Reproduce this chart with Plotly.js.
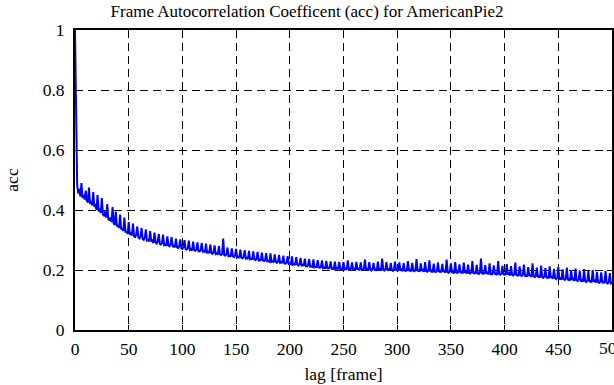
<!DOCTYPE html>
<html>
<head>
<meta charset="utf-8">
<script src="https://cdn.plot.ly/plotly-3.0.1.min.js"></script>
<style>html,body{margin:0;padding:0;background:#fff}#chart{width:614px;height:385px}</style>
</head>
<body>
<div id="chart"></div>
<script>
const chartTitle = "Frame Autocorrelation Coefficent (acc) for AmericanPie2";
const xLabel = "lag [frame]";
const yLabel = "acc";
const xTicks = [0, 50, 100, 150, 200, 250, 300, 350, 400, 450, 500];
const yTicks = [0, 0.2, 0.4, 0.6, 0.8, 1];
// acc values for lag 0..500
const acc = [
1.000, 0.660, 0.485, 0.455, 0.470, 0.445, 0.490, 0.440, 0.450, 0.435,
0.465, 0.430, 0.425, 0.475, 0.420, 0.430, 0.415, 0.460, 0.410, 0.420,
0.400, 0.450, 0.395, 0.405, 0.390, 0.440, 0.385, 0.380, 0.395, 0.375,
0.420, 0.370, 0.365, 0.375, 0.360, 0.410, 0.355, 0.350, 0.395, 0.345,
0.350, 0.340, 0.385, 0.335, 0.340, 0.330, 0.375, 0.325, 0.330, 0.320,
0.360, 0.318, 0.322, 0.315, 0.355, 0.312, 0.310, 0.318, 0.345, 0.308,
0.305, 0.312, 0.340, 0.303, 0.300, 0.308, 0.335, 0.298, 0.300, 0.295,
0.330, 0.295, 0.298, 0.290, 0.325, 0.292, 0.288, 0.295, 0.320, 0.287,
0.285, 0.290, 0.318, 0.283, 0.285, 0.280, 0.312, 0.282, 0.279, 0.285,
0.310, 0.277, 0.280, 0.275, 0.305, 0.276, 0.273, 0.279, 0.302, 0.272,
0.270, 0.276, 0.300, 0.270, 0.268, 0.272, 0.298, 0.267, 0.269, 0.265,
0.295, 0.266, 0.264, 0.268, 0.292, 0.263, 0.262, 0.266, 0.290, 0.261,
0.262, 0.259, 0.288, 0.258, 0.260, 0.256, 0.285, 0.257, 0.254, 0.259,
0.282, 0.253, 0.255, 0.251, 0.280, 0.252, 0.250, 0.254, 0.305, 0.249,
0.248, 0.252, 0.275, 0.246, 0.248, 0.245, 0.272, 0.246, 0.243, 0.248,
0.270, 0.242, 0.244, 0.240, 0.268, 0.241, 0.239, 0.243, 0.266, 0.238,
0.240, 0.237, 0.264, 0.236, 0.238, 0.235, 0.262, 0.236, 0.233, 0.237,
0.260, 0.232, 0.234, 0.231, 0.258, 0.232, 0.230, 0.233, 0.256, 0.229,
0.230, 0.228, 0.255, 0.227, 0.229, 0.226, 0.252, 0.227, 0.224, 0.228,
0.250, 0.224, 0.226, 0.223, 0.248, 0.222, 0.221, 0.224, 0.246, 0.220,
0.221, 0.219, 0.245, 0.218, 0.220, 0.217, 0.243, 0.218, 0.215, 0.219,
0.240, 0.215, 0.217, 0.214, 0.238, 0.213, 0.212, 0.215, 0.236, 0.211,
0.212, 0.210, 0.235, 0.209, 0.211, 0.208, 0.233, 0.209, 0.207, 0.210,
0.232, 0.206, 0.208, 0.205, 0.230, 0.206, 0.205, 0.208, 0.229, 0.204,
0.205, 0.203, 0.228, 0.204, 0.206, 0.202, 0.227, 0.204, 0.201, 0.205,
0.226, 0.202, 0.204, 0.201, 0.232, 0.203, 0.201, 0.205, 0.225, 0.200,
0.203, 0.200, 0.227, 0.201, 0.204, 0.199, 0.225, 0.202, 0.200, 0.204,
0.235, 0.200, 0.203, 0.199, 0.226, 0.201, 0.198, 0.203, 0.224, 0.199,
0.202, 0.198, 0.228, 0.200, 0.203, 0.199, 0.238, 0.201, 0.198, 0.202,
0.226, 0.199, 0.202, 0.198, 0.224, 0.200, 0.197, 0.202, 0.228, 0.198,
0.201, 0.197, 0.225, 0.199, 0.202, 0.196, 0.223, 0.199, 0.197, 0.201,
0.230, 0.197, 0.200, 0.195, 0.224, 0.198, 0.196, 0.200, 0.236, 0.196,
0.199, 0.195, 0.222, 0.197, 0.200, 0.194, 0.226, 0.196, 0.194, 0.198,
0.232, 0.194, 0.197, 0.192, 0.221, 0.195, 0.193, 0.197, 0.225, 0.193,
0.196, 0.192, 0.220, 0.194, 0.197, 0.191, 0.235, 0.193, 0.191, 0.195,
0.222, 0.191, 0.194, 0.189, 0.226, 0.192, 0.190, 0.194, 0.219, 0.190,
0.193, 0.189, 0.225, 0.191, 0.194, 0.188, 0.218, 0.190, 0.188, 0.192,
0.230, 0.188, 0.191, 0.187, 0.217, 0.189, 0.187, 0.191, 0.238, 0.187,
0.190, 0.186, 0.216, 0.188, 0.191, 0.185, 0.222, 0.187, 0.185, 0.189,
0.215, 0.185, 0.188, 0.184, 0.230, 0.186, 0.184, 0.188, 0.214, 0.184,
0.187, 0.183, 0.220, 0.185, 0.188, 0.182, 0.213, 0.184, 0.182, 0.186,
0.225, 0.181, 0.184, 0.180, 0.212, 0.182, 0.180, 0.184, 0.218, 0.179,
0.182, 0.178, 0.210, 0.180, 0.183, 0.177, 0.222, 0.179, 0.176, 0.180,
0.208, 0.176, 0.179, 0.175, 0.215, 0.177, 0.174, 0.178, 0.206, 0.173,
0.176, 0.172, 0.212, 0.174, 0.177, 0.171, 0.204, 0.173, 0.170, 0.174,
0.210, 0.169, 0.172, 0.168, 0.202, 0.170, 0.167, 0.171, 0.208, 0.166,
0.169, 0.165, 0.200, 0.167, 0.170, 0.164, 0.205, 0.166, 0.163, 0.167,
0.198, 0.162, 0.165, 0.161, 0.203, 0.163, 0.160, 0.164, 0.196, 0.160,
0.163, 0.159, 0.200, 0.161, 0.164, 0.158, 0.194, 0.160, 0.157, 0.161,
0.192, 0.157, 0.160, 0.156, 0.196, 0.158, 0.155, 0.159, 0.190, 0.155,
0.157
];
const lags = acc.map((_, i) => i);

const fam = "Liberation Serif, Times New Roman, serif";
const font = {family: fam, size: 17.5, color: "#000"};
const axisCommon = {
  showline: true, linecolor: "#000", linewidth: 2, mirror: "ticks",
  ticks: "inside", ticklen: 5, tickwidth: 1, tickcolor: "#000",
  showgrid: true, gridcolor: "#000", gridwidth: 1, griddash: "8px,5px",
  zeroline: false, tickfont: font
};
const lastX = xTicks[xTicks.length - 1];
Plotly.newPlot("chart", [{
  x: lags, y: acc, type: "scatter", mode: "lines",
  line: {color: "#0000ff", width: 2}, hoverinfo: "skip"
}], {
  width: 614, height: 385,
  margin: {l: 75, r: 2, t: 30, b: 55},
  paper_bgcolor: "#fff", plot_bgcolor: "#fff",
  font: font,
  showlegend: false,
  title: {text: chartTitle, font: {family: fam, size: 17, color: "#000"}, x: 0.5, xanchor: "center", y: 0.972, yanchor: "middle"},
  xaxis: Object.assign({}, axisCommon, {range: [0, 500], tickvals: xTicks.slice(0, -1), ticktext: xTicks.slice(0, -1).map(String),
    ticklabelstandoff: 2,
    title: {text: xLabel, font: font, standoff: 10}}),
  yaxis: Object.assign({}, axisCommon, {range: [0, 1], tickvals: yTicks, ticktext: yTicks.map(String),
    ticklabelstandoff: 5,
    title: {text: yLabel, font: font, standoff: 20}}),
  annotations: [{x: lastX, y: 0, xref: "x", yref: "paper", yanchor: "top", xanchor: "center", yshift: -6,
    text: String(lastX), showarrow: false, font: font}]
}, {staticPlot: true});
</script>
</body>
</html>
